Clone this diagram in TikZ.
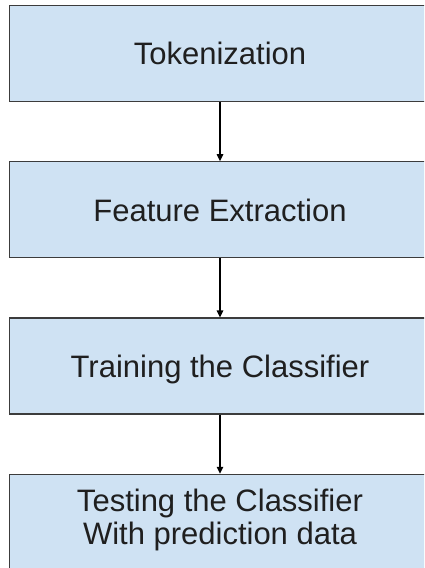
\documentclass[tikz,border=0pt]{standalone}
\usepackage{fontspec}
\setmainfont{Liberation Sans}
\usetikzlibrary{arrows.meta,positioning}
\definecolor{stagefill}{HTML}{CFE2F3}
\definecolor{stageline}{HTML}{3C3C3C}

\tikzset{
  stage/.style={draw=stageline, line width=1.3pt, fill=stagefill, inner sep=0pt,
    minimum width=421pt, minimum height=96pt, align=center, text=black!88,
    font=\fontsize{31}{33}\selectfont, text depth=0pt},
  flow/.style={-{Triangle[width=6.5pt,length=7pt]}, line width=1.2pt, black}
}

\begin{document}
\begin{tikzpicture}[x=1pt,y=-1pt,node distance=59pt]
\path[use as bounding box, clip] (0,0) rectangle (424,568);
\node[stage] (tokens) at (220,53.5) {Tokenization};
\node[stage, below=of tokens] (features) {Feature Extraction};
\node[stage, below=of features] (training) {Training the Classifier};
\node[stage, below=of training, text depth=12pt] (testing) {Testing the Classifier\\With prediction data};
\draw[flow] (tokens) -- (features);
\draw[flow] (features) -- (training);
\draw[flow] (training) -- (testing);
\end{tikzpicture}
\end{document}
